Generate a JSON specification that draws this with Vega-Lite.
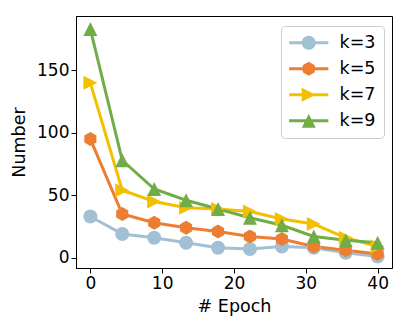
{
  "$schema": "https://vega.github.io/schema/vega-lite/v6.json",
  "width": 316,
  "height": 252,
  "autosize": {"type": "none"},
  "padding": {"left": 76, "top": 16, "right": 17, "bottom": 59},
  "background": "white",
  "config": {
    "font": "DejaVu Sans",
    "view": {"stroke": "black", "strokeWidth": 1},
    "axis": {
      "grid": false,
      "domainColor": "black",
      "tickColor": "black",
      "tickSize": 5,
      "labelColor": "black",
      "labelFont": "DejaVu Sans",
      "labelFontSize": 17,
      "labelPadding": 2,
      "titleFont": "DejaVu Sans",
      "titleFontSize": 17.5,
      "titleFontWeight": "normal",
      "titleColor": "black"
    }
  },
  "data": {
    "values": [
      {"epoch": 0, "k": "k=3", "value": 33},
      {"epoch": 4.44, "k": "k=3", "value": 19},
      {"epoch": 8.89, "k": "k=3", "value": 16},
      {"epoch": 13.33, "k": "k=3", "value": 12},
      {"epoch": 17.78, "k": "k=3", "value": 8},
      {"epoch": 22.22, "k": "k=3", "value": 7},
      {"epoch": 26.67, "k": "k=3", "value": 9},
      {"epoch": 31.11, "k": "k=3", "value": 8},
      {"epoch": 35.56, "k": "k=3", "value": 4},
      {"epoch": 40, "k": "k=3", "value": 1},
      {"epoch": 0, "k": "k=5", "value": 95},
      {"epoch": 4.44, "k": "k=5", "value": 35},
      {"epoch": 8.89, "k": "k=5", "value": 28},
      {"epoch": 13.33, "k": "k=5", "value": 24},
      {"epoch": 17.78, "k": "k=5", "value": 21},
      {"epoch": 22.22, "k": "k=5", "value": 17},
      {"epoch": 26.67, "k": "k=5", "value": 15},
      {"epoch": 31.11, "k": "k=5", "value": 9},
      {"epoch": 35.56, "k": "k=5", "value": 6},
      {"epoch": 40, "k": "k=5", "value": 3},
      {"epoch": 0, "k": "k=7", "value": 140},
      {"epoch": 4.44, "k": "k=7", "value": 54},
      {"epoch": 8.89, "k": "k=7", "value": 45},
      {"epoch": 13.33, "k": "k=7", "value": 40},
      {"epoch": 17.78, "k": "k=7", "value": 39},
      {"epoch": 22.22, "k": "k=7", "value": 37},
      {"epoch": 26.67, "k": "k=7", "value": 31},
      {"epoch": 31.11, "k": "k=7", "value": 27},
      {"epoch": 35.56, "k": "k=7", "value": 16},
      {"epoch": 40, "k": "k=7", "value": 9},
      {"epoch": 0, "k": "k=9", "value": 183},
      {"epoch": 4.44, "k": "k=9", "value": 78},
      {"epoch": 8.89, "k": "k=9", "value": 55},
      {"epoch": 13.33, "k": "k=9", "value": 46},
      {"epoch": 17.78, "k": "k=9", "value": 39},
      {"epoch": 22.22, "k": "k=9", "value": 32},
      {"epoch": 26.67, "k": "k=9", "value": 26},
      {"epoch": 31.11, "k": "k=9", "value": 17},
      {"epoch": 35.56, "k": "k=9", "value": 14},
      {"epoch": 40, "k": "k=9", "value": 12}
    ]
  },
  "encoding": {
    "x": {
      "field": "epoch",
      "type": "quantitative",
      "title": "# Epoch",
      "scale": {"domain": [-2, 42], "nice": false, "zero": false},
      "axis": {"values": [0, 10, 20, 30, 40], "titlePadding": 6}
    },
    "y": {
      "field": "value",
      "type": "quantitative",
      "title": "Number",
      "scale": {"domain": [-8.2, 193.5], "nice": false, "zero": false},
      "axis": {"values": [0, 50, 100, 150], "titlePadding": 8}
    }
  },
  "layer": [
    {
      "mark": {"type": "line", "strokeWidth": 3},
      "encoding": {
        "color": {
          "field": "k",
          "type": "nominal",
          "scale": {
            "domain": ["k=3", "k=5", "k=7", "k=9"],
            "range": ["#a2c0d3", "#ed7d31", "#f3c000", "#70ad47"]
          },
          "legend": {
            "orient": "none",
            "legendX": 205,
            "legendY": 10,
            "title": null,
            "strokeColor": "#cccccc",
            "fillColor": "white",
            "cornerRadius": 4,
            "padding": 8,
            "labelFont": "DejaVu Sans",
            "labelFontSize": 17.5,
            "labelColor": "black",
            "symbolSize": 196,
            "symbolOffset": 11,
            "labelOffset": 22,
            "rowPadding": 7,
            "encode": {
              "symbols": {
                "update": {
                  "shape": {"signal": "datum.value === 'k=3' ? 'M-2.8,-0.2L2.8,-0.2L2.8,0.2L-2.8,0.2ZM1,0A1,1,0,1,1,-1,0A1,1,0,1,1,1,0Z' : datum.value === 'k=5' ? 'M-2.8,-0.2L2.8,-0.2L2.8,0.2L-2.8,0.2ZM0,-1L0.866,-0.5L0.866,0.5L0,1L-0.866,0.5L-0.866,-0.5Z' : datum.value === 'k=7' ? 'M-2.8,-0.2L2.8,-0.2L2.8,0.2L-2.8,0.2ZM1,0L-1,1L-1,-1Z' : 'M-2.8,-0.2L2.8,-0.2L2.8,0.2L-2.8,0.2ZM0,-1L1,1L-1,1Z'"},
                  "fill": {"scale": "color", "field": "value"},
                  "stroke": {"value": "transparent"},
                  "strokeWidth": {"value": 0},
                  "opacity": {"value": 1},
                  "fillOpacity": {"value": 1}
                }
              }
            }
          }
        }
      }
    },
    {
      "transform": [{"filter": "datum.k === 'k=3'"}],
      "mark": {"type": "point", "shape": "circle", "filled": true, "opacity": 1, "size": 196, "color": "#a2c0d3"}
    },
    {
      "transform": [{"filter": "datum.k === 'k=5'"}],
      "mark": {"type": "point", "shape": "M0,-1L0.866,-0.5L0.866,0.5L0,1L-0.866,0.5L-0.866,-0.5Z", "filled": true, "opacity": 1, "size": 196, "color": "#ed7d31"}
    },
    {
      "transform": [{"filter": "datum.k === 'k=7'"}],
      "mark": {"type": "point", "shape": "M1,0L-1,1L-1,-1Z", "filled": true, "opacity": 1, "size": 196, "color": "#f3c000"}
    },
    {
      "transform": [{"filter": "datum.k === 'k=9'"}],
      "mark": {"type": "point", "shape": "M0,-1L1,1L-1,1Z", "filled": true, "opacity": 1, "size": 196, "color": "#70ad47"}
    }
  ]
}
